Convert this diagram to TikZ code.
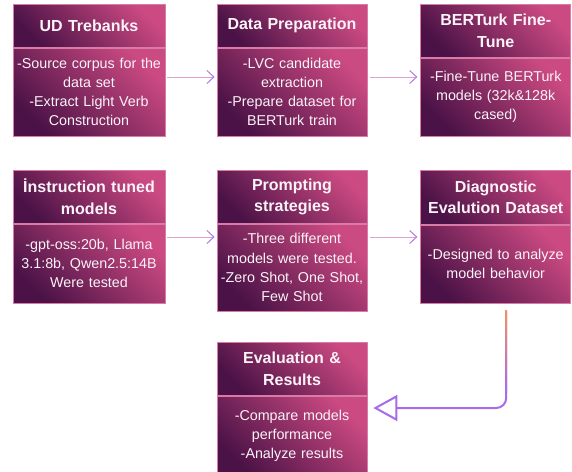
\documentclass[tikz,border=0pt]{standalone}
\usepackage{fontspec}
\setmainfont{Liberation Sans}
\usetikzlibrary{arrows.meta,calc}
\definecolor{pinkc}{HTML}{CC4A82}
\definecolor{darkc}{HTML}{4A1246}
\definecolor{edgec}{HTML}{D97BA6}
\definecolor{txtc}{HTML}{FBF3F8}
\definecolor{connc}{HTML}{E2A2CB}
\definecolor{tipc}{HTML}{B07AE6}
\definecolor{purpc}{HTML}{A66AEB}
\definecolor{orangec}{HTML}{F4935A}
\tikzset{
  part/.style={rectangle, inner sep=0pt, draw=edgec, line width=0.7pt,
    top color=pinkc, bottom color=darkc, shading angle=-45,
    text=txtc, align=center, anchor=north},
  head/.style={part, font=\fontsize{16}{21.5}\selectfont\bfseries},
  body/.style={part, font=\fontsize{14.3}{19.2}\selectfont},
  conn/.style={draw=connc, line width=1pt,
    -{Straight Barb[length=7pt,width=13pt,color=tipc,line width=1pt]}},
  bigconn/.style={draw=purpc, line width=2pt, rounded corners=10pt,
    -{Triangle[open,length=24pt,width=26pt,line width=2pt,color=purpc]}}
}
\begin{document}
\begin{tikzpicture}[x=1pt,y=-1pt]
\useasboundingbox (0,0) rectangle (572,471);
\fill[white] (0,0) rectangle (572,471);
% row 1
\node[head, minimum width=152, text width=146, minimum height=43] (h1) at (89,4) {UD Trebanks};
\node[body, minimum width=152, text width=150, minimum height=88] (b1) at (h1.south) {-Source corpus for the\\data set\\-Extract Light Verb\\Construction};
\node[head, minimum width=150, text width=146, minimum height=43] (h2) at (292,4) {Data Preparation};
\node[body, minimum width=150, text width=148, minimum height=88] (b2) at (h2.south) {-LVC candidate\\extraction\\-Prepare dataset for\\BERTurk train};
\node[head, minimum width=150, text width=146, minimum height=53] (h3) at (495.7,4) {BERTurk Fine-\\Tune};
\node[body, minimum width=150, text width=148, minimum height=78] (b3) at (h3.south) {-Fine-Tune BERTurk\\models (32k\&128k\\cased)};
% row 2
\node[head, minimum width=152, text width=146, minimum height=53] (h4) at (89,170) {İnstruction tuned\\models};
\node[body, minimum width=152, text width=150, minimum height=79] (b4) at (h4.south) {-gpt-oss:20b, Llama\\3.1:8b, Qwen2.5:14B\\Were tested};
\node[head, minimum width=150, text width=146, minimum height=53] (h5) at (292,170) {Prompting\\strategies};
\node[body, minimum width=150, text width=148, minimum height=87] (b5) at (h5.south) {-Three different\\models were tested.\\-Zero Shot, One Shot,\\Few Shot};
\node[head, minimum width=150, text width=146, minimum height=54] (h6) at (495.7,170) {Diagnostic\\Evalution Dataset};
\node[body, minimum width=150, text width=148, minimum height=78] (b6) at (h6.south) {-Designed to analyze\\model behavior};
% row 3
\node[head, minimum width=150, text width=146, minimum height=53] (h7) at (292,342) {Evaluation \&\\Results};
\node[body, minimum width=150, text width=148, minimum height=80] (b7) at (h7.south) {-Compare models\\performance\\-Analyze results};
% connectors
\draw[conn] ([xshift=2pt]b1.east |- 0,77) -- ([xshift=-2pt]b2.west |- 0,77);
\draw[conn] ([xshift=3pt]b2.east |- 0,77) -- ([xshift=-3pt]b3.west |- 0,77);
\draw[conn] ([xshift=2pt]b4.east |- 0,237) -- ([xshift=-2pt]b5.west |- 0,237);
\draw[conn] ([xshift=3pt]b5.east |- 0,237) -- ([xshift=-3pt]b6.west |- 0,237);
\draw[bigconn] ([xshift=10.5pt,yshift=-8pt]b6.south) |- ([xshift=6pt]b7.east |- 0,408);
\shade[top color=orangec, bottom color=purpc] (505,310) rectangle (507,392);
\end{tikzpicture}
\end{document}
